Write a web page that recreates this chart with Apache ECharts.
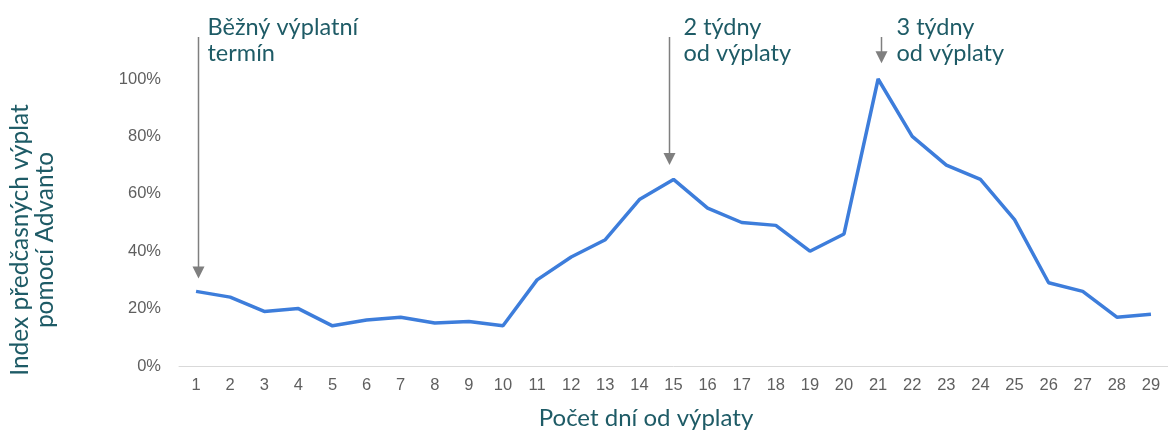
<!DOCTYPE html>
<html><head><meta charset="utf-8">
<script src="https://cdn.jsdelivr.net/npm/echarts@6/dist/echarts.min.js"></script>
<style>html,body{margin:0;padding:0;background:#fff}#c{width:1168px;height:433px}</style>
</head><body><div id="c"></div>
<script>
const categories = ['1','2','3','4','5','6','7','8','9','10','11','12','13','14','15','16','17','18','19','20','21','22','23','24','25','26','27','28','29'];
const values = [26,24,19,20,14,16,17,15,15.5,14,30,38,44,58,65,55,50,49,40,46,100,80,70,65,51,29,26,17,18];
const yTicks = [0,20,40,60,80,100];
const annotations = [
  {cat:0, tip:30.5, lines:['Běžný výplatní','termín']},
  {cat:14, tip:70, lines:['2 týdny','od výplaty']},
  {cat:20, tip:105.5, lines:['3 týdny','od výplaty']}
];
const yTitle = ['Index předčasných výplat','pomocí Advanto'];
const xTitle = 'Počet dní od výplaty';

const teal = '#1e5b66';
const chart = echarts.init(document.getElementById('c'));
chart.setOption({
  animation:false,
  grid:{left:179, top:79, width:990, height:287},
  xAxis:{type:'category', data:categories, boundaryGap:true,
    axisLine:{lineStyle:{color:'#d9d9d9', width:1}}, axisTick:{show:false},
    axisLabel:{color:'#5f5f5f', fontSize:16.5, fontFamily:'Liberation Sans, Arial', margin:11}},
  yAxis:{type:'value', min:0, max:100, interval:20,
    axisLine:{show:false}, axisTick:{show:false}, splitLine:{show:false},
    axisLabel:{color:'#5f5f5f', fontSize:16.5, fontFamily:'Liberation Sans, Arial', margin:18, formatter:v=>v+'%'}},
  series:[{type:'line', data:values, symbol:'none', lineStyle:{color:'#3d7ddb', width:3.5}, clip:false}]
});

const g = [];
const xShift = [2,-5,3];
const textGap = [9,14,15];
annotations.forEach((a,i)=>{
  const p = chart.convertToPixel({xAxisIndex:0,yAxisIndex:0},[a.cat,a.tip]);
  const x = Math.round(p[0]) + xShift[i] + 0.5;
  const tipY = p[1];
  const topY = 37;
  g.push({type:'line', shape:{x1:x,y1:topY,x2:x,y2:tipY-11}, style:{stroke:'#7f7f7f', lineWidth:1.5}});
  g.push({type:'polygon', shape:{points:[[x-6,tipY-12],[x+6,tipY-12],[x,tipY]]}, style:{fill:'#7f7f7f'}});
  a.lines.forEach((t,j)=>{
    g.push({type:'text', x:x+textGap[i], y:27+j*26, style:{text:t, fill:teal, font:'23.5px Lato', textVerticalAlign:'middle', textAlign:'left'}});
  });
});
yTitle.forEach((t,j)=>{
  g.push({type:'text', x:20+j*25, y:240, rotation:Math.PI/2, style:{text:t, fill:teal, font:'24.5px Lato', textAlign:'center', textVerticalAlign:'middle'}});
});
g.push({type:'text', x:646, y:418, style:{text:xTitle, fill:teal, font:'24px Lato', textAlign:'center', textVerticalAlign:'middle'}});
chart.setOption({graphic:g});
</script></body></html>
